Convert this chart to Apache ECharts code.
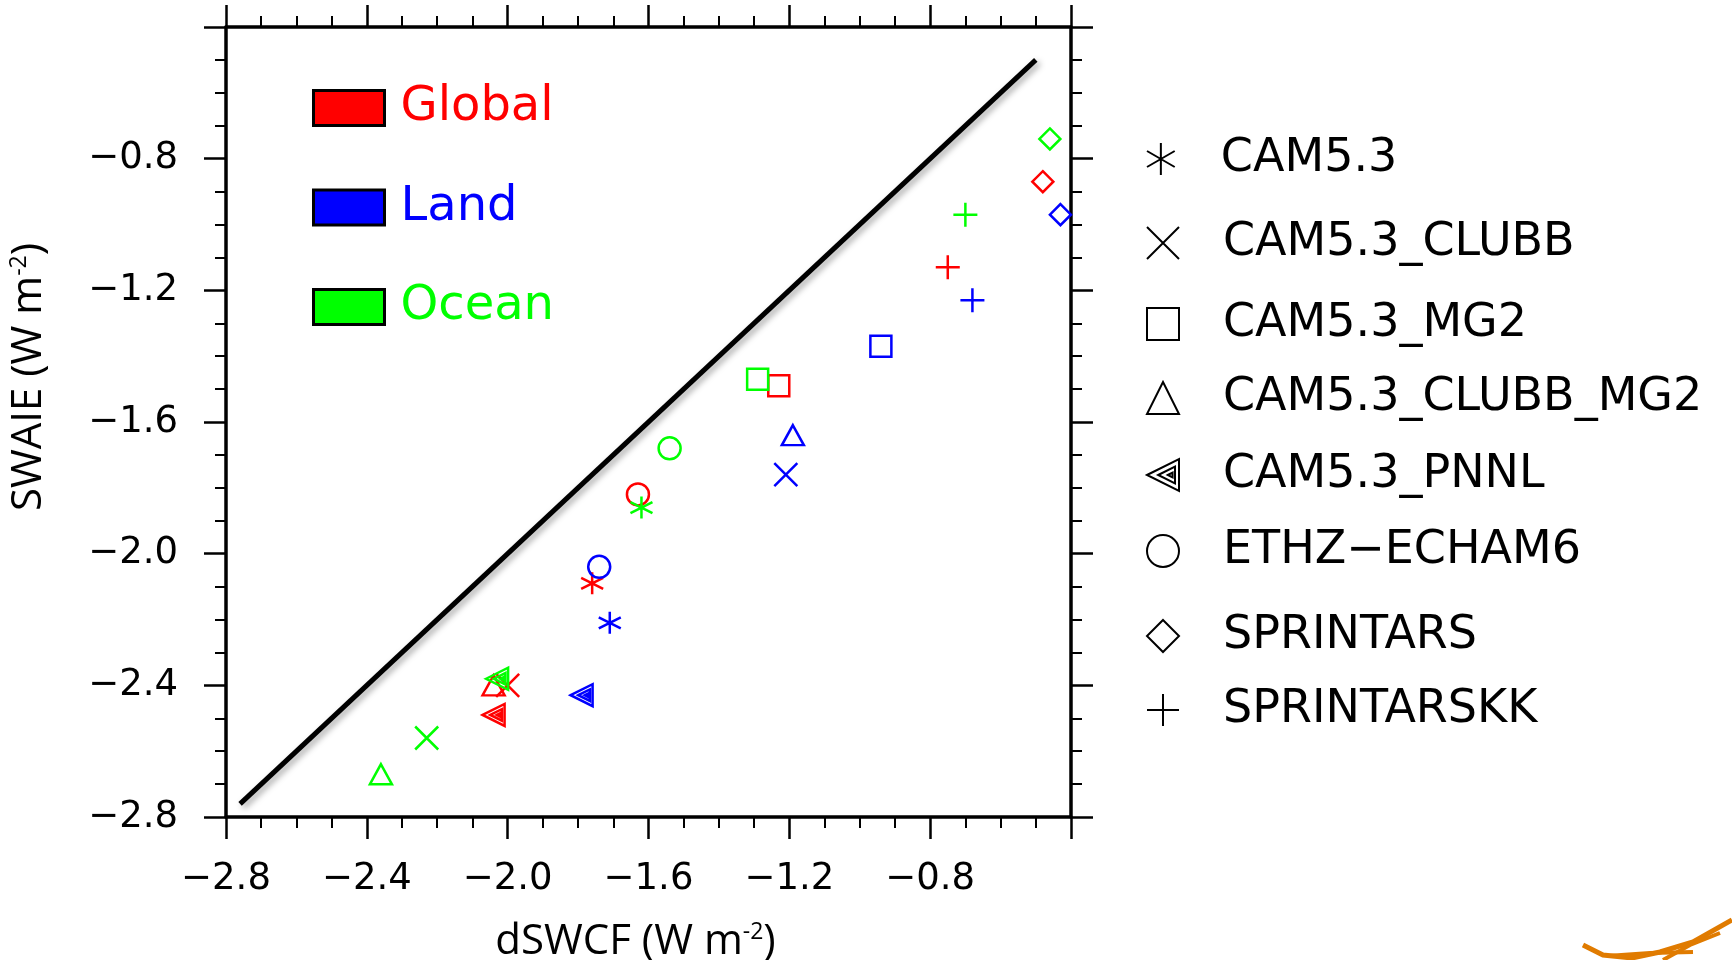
<!DOCTYPE html>
<html>
<head>
<meta charset="utf-8">
<title>SWAIE vs dSWCF</title>
<script src="https://cdn.jsdelivr.net/npm/echarts@6/dist/echarts.min.js"></script>
<style>
  html, body { margin: 0; padding: 0; background: #fff; }
  #chart { width: 1732px; height: 960px; }
</style>
</head>
<body>
<div id="chart"></div>
<script>
// models, in legend order
const models = ['CAM5.3', 'CAM5.3_CLUBB', 'CAM5.3_MG2', 'CAM5.3_CLUBB_MG2',
  'CAM5.3_PNNL', 'ETHZ\u2212ECHAM6', 'SPRINTARS', 'SPRINTARSKK'];

// dSWCF (x) and SWAIE (y), W m-2, one value per model
const globalX = [-1.76, -2.00, -1.23, -2.04, -2.04, -1.63, -0.48, -0.75];
const globalY = [-2.09, -2.40, -1.49, -2.40, -2.49, -1.82, -0.87, -1.13];
const landX   = [-1.71, -1.21, -0.94, -1.19, -1.79, -1.74, -0.43, -0.68];
const landY   = [-2.21, -1.76, -1.37, -1.64, -2.43, -2.04, -0.97, -1.23];
const oceanX  = [-1.62, -2.23, -1.29, -2.36, -2.03, -1.54, -0.46, -0.70];
const oceanY  = [-1.86, -2.56, -1.47, -2.67, -2.38, -1.68, -0.74, -0.97];

const regions = ['Global', 'Land', 'Ocean'];
const regionColors = ['#ff0000', '#0000ff', '#00ff00'];

// ends of the 1:1 line
const oneToOne = [-2.76, -0.5];

// axis range
const axisMin = -2.8, axisMax = -0.4, axisStep = 0.4;

const modelSymbols = [
  'path://M10,0L10,20M1.34,5L18.66,15M1.34,15L18.66,5',
  'path://M0,0L20,20M0,20L20,0',
  'rect',
  'triangle',
  'path://M0,10L20,0L20,20ZM7,10L17.5,4.8L17.5,15.2ZM13,10L16,8.5L16,11.5Z',
  'circle',
  'diamond',
  'path://M10,0L10,20M0,10L20,10'
];
const markerSizes = [22, 23, 21, [22, 20], 22, 22, 21, 24];
const legendRowY = [159, 243, 324, 398, 475, 551, 636, 710];

const regionX = [globalX, landX, oceanX];
const regionY = [globalY, landY, oceanY];

const tickFmt = v => (v < 0 ? '\u2212' : '') + Math.abs(v).toFixed(1);

const baseAxis = {
  type: 'value', min: axisMin, max: axisMax, interval: axisStep,
  axisLine: { show: true, onZero: false, lineStyle: { color: '#000', width: 3.5 } },
  axisTick: { show: true, length: 22, lineStyle: { color: '#000', width: 2.5 } },
  minorTick: { show: true, splitNumber: 4, length: 11, lineStyle: { color: '#000', width: 2 } },
  splitLine: { show: false },
  minorSplitLine: { show: false },
  axisLabel: { show: false }
};
const labelStyle = { show: true, formatter: tickFmt, showMaxLabel: false,
  fontFamily: 'DejaVu Sans', fontSize: 37, color: '#000' };
const nameStyle = {
  fontFamily: 'Open Sans', fontSize: 42, color: '#000',
  rich: { sup: { fontFamily: 'Open Sans', fontSize: 23, verticalAlign: 'top', lineHeight: 20, color: '#000' } }
};

const chart = echarts.init(document.getElementById('chart'));

const series = regions.map((r, k) => ({
  type: 'scatter', name: r, z: 3, silent: true,
  data: models.map((m, i) => ({
    value: [regionX[k][i], regionY[k][i]],
    symbol: modelSymbols[i],
    symbolSize: markerSizes[i]
  })),
  itemStyle: { color: 'rgba(0,0,0,0)', borderColor: regionColors[k], borderWidth: 2.5, opacity: 1 },
  emphasis: { disabled: true }
}));

// empty series so every model gets a legend entry
models.forEach((m, i) => {
  series.push({
    type: 'scatter', name: m, data: [], symbol: modelSymbols[i],
    itemStyle: { color: 'rgba(0,0,0,0)', borderColor: '#000', borderWidth: 2, opacity: 1 }
  });
});

series.push({
  type: 'line', name: '1:1', z: 2, silent: true, symbol: 'none',
  data: [[oneToOne[0], oneToOne[0]], [oneToOne[1], oneToOne[1]]],
  lineStyle: { color: '#000', width: 5, shadowColor: 'rgba(0,0,0,0.35)',
    shadowBlur: 6, shadowOffsetX: 3, shadowOffsetY: 3 }
});

const legends = [{
  data: regions.map((r, i) => ({
    name: r,
    itemStyle: { color: regionColors[i], borderColor: '#000', borderWidth: 3, opacity: 1 },
    textStyle: { color: regionColors[i] }
  })),
  left: 312, top: 84, orient: 'vertical', padding: 0, icon: 'rect',
  itemWidth: 71, itemHeight: 35, itemGap: 51.5, selectedMode: false,
  textStyle: { fontFamily: 'DejaVu Sans', fontSize: 48, lineHeight: 35, padding: [0, 0, 0, 11] }
}];
models.forEach((m, i) => {
  legends.push({
    data: [{ name: m, icon: modelSymbols[i] }],
    left: 1146, top: legendRowY[i] - 23, orient: 'vertical', padding: 0,
    itemWidth: 32, itemHeight: 32, selectedMode: false,
    itemStyle: { color: 'rgba(0,0,0,0)', borderColor: '#000', borderWidth: 2, opacity: 1 },
    textStyle: { fontFamily: 'DejaVu Sans', fontSize: 46, color: '#000', lineHeight: 32, padding: [0, 0, 0, 39] }
  });
});

chart.setOption({
  animation: false,
  backgroundColor: '#fff',
  grid: { left: 226, top: 27, width: 845, height: 790, outerBoundsMode: 'none' },
  xAxis: [
    Object.assign({}, baseAxis, {
      position: 'bottom',
      axisLabel: Object.assign({ margin: 44 }, labelStyle),
      name: 'dSWCF (W m{sup|-2})', nameLocation: 'middle', nameGap: 104,
      nameTextStyle: Object.assign({}, nameStyle, { padding: [0, 26, 0, 0] })
    }),
    Object.assign({}, baseAxis, { position: 'top' })
  ],
  yAxis: [
    Object.assign({}, baseAxis, {
      position: 'left',
      axisLabel: Object.assign({ margin: 48 }, labelStyle),
      name: 'SWAIE (W m{sup|-2})', nameLocation: 'middle', nameGap: 176, nameRotate: 90,
      nameTextStyle: Object.assign({}, nameStyle, { padding: [0, 0, 0, 90] })
    }),
    Object.assign({}, baseAxis, { position: 'right' })
  ],
  legend: legends,
  series: series,
  graphic: [
    { type: 'polyline', silent: true,
      shape: { points: [[1583, 945], [1603, 955], [1632, 958], [1660, 952], [1693, 942], [1732, 920]] },
      style: { stroke: '#e07b00', lineWidth: 5, fill: null } },
    { type: 'polyline', silent: true,
      shape: { points: [[1607, 956], [1650, 953], [1693, 952]] },
      style: { stroke: '#e07b00', lineWidth: 4, fill: null } },
    { type: 'polyline', silent: true,
      shape: { points: [[1663, 960], [1690, 945], [1720, 933]] },
      style: { stroke: '#e07b00', lineWidth: 4, fill: null } }
  ]
});
</script>
</body>
</html>
